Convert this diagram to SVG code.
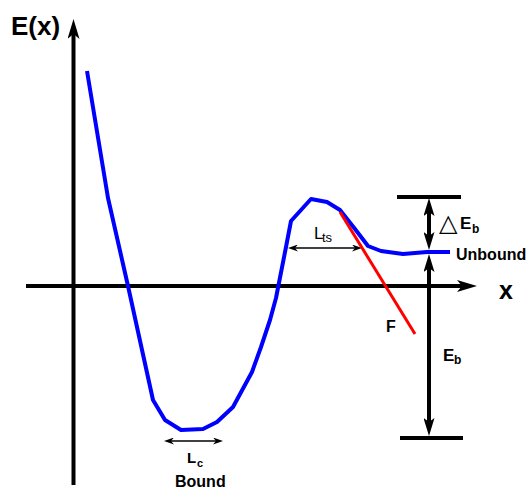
<svg xmlns="http://www.w3.org/2000/svg" width="528" height="490" viewBox="0 0 528 490">
<style>
.ax{stroke:#000;stroke-width:4;fill:none}
.thin{stroke:#000;stroke-width:1.6;fill:none}
.lbl{font-family:"Liberation Sans",Arial,sans-serif;font-weight:bold;fill:#000}
.nrm{font-family:"Liberation Sans",Arial,sans-serif;fill:#000}
</style>
<defs>
<marker id="big" markerUnits="userSpaceOnUse" viewBox="0 0 20 12" refX="5" refY="6" markerWidth="20" markerHeight="12" orient="auto-start-reverse">
<path d="M0,0 L20,6 L0,12 L5,6 Z" fill="#000"/>
</marker>
<marker id="mid" markerUnits="userSpaceOnUse" viewBox="0 0 18 11" refX="4" refY="5.5" markerWidth="18" markerHeight="11" orient="auto-start-reverse">
<path d="M0,0 L18,5.5 L0,11 L4,5.5 Z" fill="#000"/>
</marker>
<marker id="sm" markerUnits="userSpaceOnUse" viewBox="0 0 10 7" refX="3" refY="3.5" markerWidth="10" markerHeight="7" orient="auto-start-reverse">
<path d="M0,0 L10,3.5 L0,7 L3,3.5 Z" fill="#000"/>
</marker>
</defs>
<g id="connectors">
<line id="y-axis" class="ax" x1="73.5" y1="485" x2="73.5" y2="34" marker-end="url(#big)"/>
<line id="x-axis" class="ax" x1="26" y1="286" x2="462" y2="286" marker-end="url(#big)"/>
<line id="bar-top" class="ax" x1="397" y1="197" x2="461" y2="197"/>
<line id="bar-bottom" class="ax" x1="400" y1="438" x2="463" y2="438"/>
<line id="dEb-arrow" class="ax" x1="429" y1="212" x2="429" y2="236" marker-start="url(#mid)" marker-end="url(#mid)"/>
<line id="Eb-arrow" class="ax" x1="429" y1="268" x2="429" y2="422" marker-start="url(#mid)" marker-end="url(#mid)"/>
<line id="Lts-arrow" class="thin" x1="295" y1="248" x2="355" y2="248" marker-start="url(#sm)" marker-end="url(#sm)"/>
<line id="Lc-arrow" class="thin" x1="171" y1="441" x2="216" y2="441" marker-start="url(#sm)" marker-end="url(#sm)"/>
</g>
<g id="energy-curve">
<path d="M87,71 L108,198 L128,286 L153,400 L165,420 L181,430 L203,429 L217,422 L233,407 L252,372 L261,347 L270,320 L276,298 L286,247 L291,221 L311,199 L327,202 L340,210 L355,229 L368,246 L381,251 L403,254 L427,252 L450,252" fill="none" stroke="#0000FF" stroke-width="4" stroke-linejoin="round"/>
</g>
<g id="force-line">
<line x1="340" y1="212" x2="415" y2="334" stroke="#FF0000" stroke-width="3"/>
</g>
<g id="labels">
<text class="lbl" x="11" y="35" font-size="26">E(x)</text>
<text class="lbl" x="499" y="299" font-size="25">x</text>
<text class="lbl" x="456" y="260" font-size="16">Unbound</text>
<text class="lbl" x="386" y="332" font-size="16">F</text>
<text class="lbl" x="443" y="361" font-size="17">E</text>
<text class="lbl" x="454" y="364" font-size="12">b</text>
<text x="439" y="231" font-size="24" font-family="DejaVu Sans,sans-serif" fill="#000">△</text>
<text class="lbl" x="460" y="229" font-size="17">E</text>
<text class="lbl" x="472" y="233" font-size="12">b</text>
<text class="nrm" x="314" y="239" font-size="17">L</text>
<text class="nrm" x="322" y="242" font-size="13">ts</text>
<text class="lbl" x="187" y="463" font-size="15">L</text>
<text class="lbl" x="197" y="467" font-size="11">c</text>
<text class="lbl" x="175" y="487" font-size="16">Bound</text>
</g>
</svg>
